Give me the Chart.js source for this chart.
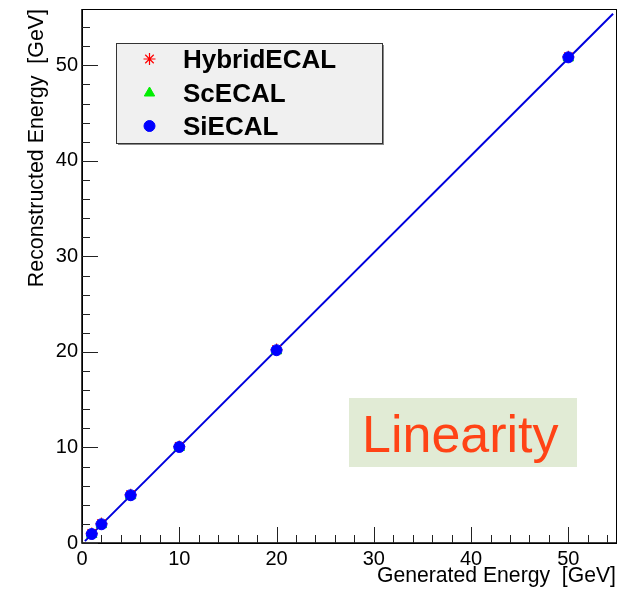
<!DOCTYPE html>
<html>
<head>
<meta charset="utf-8">
<script src="https://cdn.jsdelivr.net/npm/chart.js@4.4.1/dist/chart.umd.min.js"></script>
<style>
  html, body { margin: 0; padding: 0; background: #fff; }
  canvas { display: block; }
</style>
</head>
<body>
<canvas id="chart" width="624" height="592"></canvas>
<script>
// generated beam energies [GeV]
const energies = [1, 2, 5, 10, 20, 50];
// reconstructed energies per detector option
const hybridECAL = [1.0, 2.03, 5.06, 10.1, 20.25, 50.9];
const scECAL = [0.9, 1.92, 4.95, 10.0, 20.12, 50.78];
const siECAL = [0.94, 1.96, 5.0, 10.05, 20.18, 50.84];
// straight line fit drawn through the points
const fitX = [0.3, 54.6];
const fitY = [0.2, 55.4];

const xTicks = [0, 10, 20, 30, 40, 50];
const yTicks = [0, 10, 20, 30, 40, 50];
const xMax = 54.9;
const yMax = 55.9;

const FONT = "'Liberation Sans', Arial, Helvetica, sans-serif";

function pts(xs, ys) {
  return xs.map(function (x, i) { return { x: x, y: ys[i] }; });
}

// ROOT style frame with inside ticks, legend box and the label box
const rootFrame = {
  id: 'rootFrame',
  afterDraw(chart) {
    const ctx = chart.ctx;
    const a = chart.chartArea;
    const xs = chart.scales.x;
    const ys = chart.scales.y;
    ctx.save();
    ctx.strokeStyle = '#000';
    ctx.lineWidth = 1;
    ctx.strokeRect(a.left + 0.5, a.top + 0.5, a.right - a.left, a.bottom - a.top);
    ctx.lineWidth = 1.5;
    ctx.beginPath();
    ctx.moveTo(a.left, a.top);
    ctx.lineTo(a.left, a.bottom);
    ctx.lineTo(a.right, a.bottom);
    ctx.stroke();

    ctx.lineWidth = 1;
    ctx.strokeStyle = '#222';
    ctx.beginPath();
    for (let v = 0; v <= xMax; v += 2) {
      const px = Math.round(xs.getPixelForValue(v)) + 0.5;
      const len = v % 10 === 0 ? 16 : 8;
      ctx.moveTo(px, a.bottom);
      ctx.lineTo(px, a.bottom - len);
    }
    for (let v = 0; v <= yMax; v += 2) {
      const py = Math.round(ys.getPixelForValue(v)) + 0.5;
      const len = v % 10 === 0 ? 16 : 8;
      ctx.moveTo(a.left, py);
      ctx.lineTo(a.left + len, py);
    }
    ctx.stroke();

    // legend box
    const lx = 116, ly = 43, lw = 266, lh = 100;
    ctx.fillStyle = '#888';
    ctx.fillRect(lx + 2, ly + 2, lw, lh);
    ctx.fillStyle = '#f0f0f0';
    ctx.fillRect(lx, ly, lw, lh);
    ctx.strokeStyle = '#333';
    ctx.strokeRect(lx + 0.5, ly + 0.5, lw, lh);

    const rows = [59, 93, 126];
    const legendSets = [0, 1, 2];
    legendSets.forEach(function (di, i) {
      const ds = chart.data.datasets[di];
      ctx.fillStyle = ds.backgroundColor;
      ctx.strokeStyle = ds.borderColor;
      ctx.lineWidth = ds.borderWidth;
      Chart.helpers.drawPoint(ctx, {
        pointStyle: ds.pointStyle,
        radius: ds.pointRadius,
        borderWidth: ds.borderWidth,
        rotation: 0
      }, 149.5, rows[i]);
      ctx.fillStyle = '#000';
      ctx.font = 'bold 26px ' + FONT;
      ctx.textAlign = 'left';
      ctx.textBaseline = 'alphabetic';
      ctx.fillText(ds.label, 183, rows[i] + 8.5);
    });

    // label box
    ctx.fillStyle = '#e1ebd5';
    ctx.fillRect(349, 398, 228, 69);
    ctx.fillStyle = '#ff4316';
    ctx.font = '52px ' + FONT;
    ctx.textAlign = 'left';
    ctx.fillText('Linearity', 362, 452);
    ctx.restore();
  }
};

const charthtml = document.getElementById('chart');
new Chart(charthtml, {
  type: 'scatter',
  data: {
    datasets: [{
      label: 'HybridECAL',
      data: pts(energies, hybridECAL),
      pointStyle: 'star',
      pointRadius: 6,
      borderWidth: 1.2,
      borderColor: '#ff0000',
      backgroundColor: '#ff0000',
      order: 2
    }, {
      label: 'ScECAL',
      data: pts(energies, scECAL),
      pointStyle: 'triangle',
      pointRadius: 6,
      borderWidth: 1,
      borderColor: '#00ee00',
      backgroundColor: '#00ee00',
      order: 1
    }, {
      label: 'SiECAL',
      data: pts(energies, siECAL),
      pointStyle: 'circle',
      pointRadius: 5.5,
      borderWidth: 1,
      borderColor: '#0000ff',
      backgroundColor: '#0000ff',
      order: 0
    }, {
      label: 'fit',
      data: pts(fitX, fitY),
      showLine: true,
      pointRadius: 0,
      borderColor: '#0000dd',
      borderWidth: 2,
      order: 3
    }]
  },
  options: {
    responsive: false,
    animation: false,
    devicePixelRatio: 1,
    layout: { padding: { top: 9, right: 8, left: 0, bottom: 0 } },
    plugins: {
      legend: { display: false },
      tooltip: { enabled: false }
    },
    scales: {
      x: {
        type: 'linear',
        min: 0,
        max: xMax,
        grid: { display: false, drawTicks: false },
        border: { display: false },
        afterFit: function (s) { s.height = 49; s.paddingLeft = 0; s.paddingRight = 0; },
        afterBuildTicks: function (s) { s.ticks = xTicks.map(function (v) { return { value: v }; }); },
        ticks: {
          color: '#000',
          padding: 4,
          maxRotation: 0,
          font: { family: FONT, size: 20 }
        },
        title: {
          display: true,
          text: 'Generated Energy  [GeV]',
          align: 'end',
          color: '#000',
          padding: { top: 0, bottom: 3 },
          font: { family: FONT, size: 21.2 }
        }
      },
      y: {
        type: 'linear',
        min: 0,
        max: yMax,
        grid: { display: false, drawTicks: false },
        border: { display: false },
        afterFit: function (s) { s.width = 82; s.paddingTop = 0; s.paddingBottom = 0; },
        afterBuildTicks: function (s) { s.ticks = yTicks.map(function (v) { return { value: v }; }); },
        ticks: {
          color: '#000',
          padding: 4,
          font: { family: FONT, size: 20 }
        },
        title: {
          display: true,
          text: 'Reconstructed Energy  [GeV]',
          align: 'end',
          color: '#000',
          padding: { top: 24, bottom: 0 },
          font: { family: FONT, size: 21.4 }
        }
      }
    }
  },
  plugins: [rootFrame]
});
</script>
</body>
</html>
